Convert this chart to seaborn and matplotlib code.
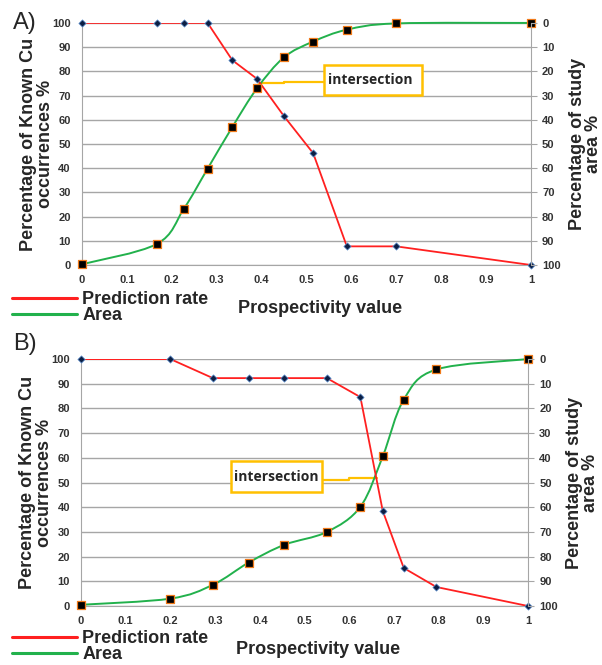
import numpy as np
import pandas as pd
import matplotlib
matplotlib.use("Agg")
import matplotlib.pyplot as plt
from matplotlib.path import Path
from matplotlib.patches import PathPatch, Rectangle
from matplotlib.lines import Line2D
import seaborn as sns

# data
# panel A
a_x = [0, 0.167, 0.227, 0.28, 0.335, 0.39, 0.45, 0.515, 0.59, 0.70, 1.0]
a_pred = [100, 100, 100, 100, 84.6, 76.9, 61.5, 46.2, 7.7, 7.7, 0]
a_area = [0.3, 8.7, 23.2, 39.8, 57.0, 73.0, 85.8, 92.3, 97.2, 99.8, 100]
# panel B
b_x = [0, 0.2, 0.295, 0.375, 0.455, 0.55, 0.625, 0.675, 0.722, 0.795, 1.0]
b_pred = [100, 100, 92.3, 92.3, 92.3, 92.3, 84.6, 38.5, 15.4, 7.7, 0]
b_area = [0.5, 3.0, 8.6, 17.6, 24.8, 30.0, 40.2, 60.6, 83.6, 95.8, 100]

x_ticks = [0, 0.1, 0.2, 0.3, 0.4, 0.5, 0.6, 0.7, 0.8, 0.9, 1]
x_tick_labels = ["0", "0.1", "0.2", "0.3", "0.4", "0.5", "0.6", "0.7", "0.8", "0.9", "1"]
y_ticks = list(range(0, 101, 10))

RED = "#ff2020"
GREEN = "#22b14c"
ORANGE = "#ffc000"
GRID = "#a6a6a6"

sns.set_style("white")
plt.rcParams['font.family'] = ['Liberation Sans', 'DejaVu Sans']


def smooth_path(xs, ys):
    # excel-like smoothed line: cubic bezier through the points
    p = np.column_stack([xs, ys]).astype(float)
    verts = [p[0]]
    codes = [Path.MOVETO]
    n = len(p)
    for i in range(n - 1):
        p0 = p[i - 1] if i > 0 else p[i]
        p3 = p[i + 2] if i + 2 < n else p[i + 1]
        c1 = p[i] + (p[i + 1] - p0) / 6.0
        c2 = p[i + 1] - (p3 - p[i]) / 6.0
        verts += [c1, c2, p[i + 1]]
        codes += [Path.CURVE4] * 3
    return Path(verts, codes)


def draw_panel(ax, xs, pred, area):
    df = pd.DataFrame({"x": xs, "pred": pred, "area": area})
    ax.set_xlim(0, 1)
    ax.set_ylim(0, 100)
    ax.set_yticks(y_ticks)
    ax.set_xticks(x_ticks)
    ax.set_xticklabels(x_tick_labels)
    ax.yaxis.grid(True, color=GRID, lw=1)
    ax.set_axisbelow(True)
    for s in ["top", "right"]:
        ax.spines[s].set_visible(False)
    ax.spines["left"].set_color(GRID)
    ax.spines["bottom"].set_color(GRID)
    ax.tick_params(axis="both", labelsize=8, colors="#333333", length=3, width=0.8)
    ax.tick_params(axis="y", length=0, pad=8)
    ax.tick_params(axis="x", color=GRID, pad=4)
    for t in ax.get_xticklabels() + ax.get_yticklabels():
        t.set_fontweight("bold")

    # green area curve (smoothed)
    ax.add_patch(PathPatch(smooth_path(df["x"], df["area"]), fill=False,
                           edgecolor=GREEN, lw=1.4, zorder=3, clip_on=False))
    sns.lineplot(ax=ax, data=df, x="x", y="pred", color=RED, lw=1.3,
                 errorbar=None, zorder=4)
    sns.scatterplot(ax=ax, data=df, x="x", y="pred", marker="D", s=14,
                    color="#0b1f45", edgecolor="#6a9bd8", linewidth=0.5,
                    zorder=5, clip_on=False)
    sns.scatterplot(ax=ax, data=df, x="x", y="area", marker="s", s=30,
                    color="black", edgecolor="#f07a1a", linewidth=0.9,
                    zorder=6, clip_on=False)
    ax.set_xlabel("")
    ax.set_ylabel("Percentage of Known Cu\noccurrences %", fontsize=13,
                  fontweight="bold", linespacing=0.95, labelpad=-1)

    ax2 = ax.twinx()
    ax2.set_ylim(100, 0)
    ax2.set_yticks(y_ticks)
    ax2.tick_params(axis="y", labelsize=8, colors="#333333", length=4,
                    width=0.8, pad=4)
    ax2.tick_params(axis="y", color=GRID)
    for t in ax2.get_yticklabels():
        t.set_fontweight("bold")
    for s in ["top", "left", "bottom"]:
        ax2.spines[s].set_visible(False)
    ax2.spines["right"].set_color(GRID)
    ax2.set_ylabel("Percentage of study\narea %", fontsize=13, fontweight="bold",
                   linespacing=0.95, labelpad=6)
    ax2.grid(False)
    return ax2


fig = plt.figure(figsize=(6.02, 6.65), dpi=100)
axA = fig.add_axes([0.136, 0.6015, 0.746, 0.364])
axB = fig.add_axes([0.1346, 0.0887, 0.7425, 0.3713])

draw_panel(axA, a_x, a_pred, a_area)
draw_panel(axB, b_x, b_pred, b_area)

# intersection annotations
axA.plot([0.395, 0.45, 0.45, 0.54], [75.3, 75.3, 75.8, 75.8], color=ORANGE, lw=1.6, zorder=2)
axA.add_patch(Rectangle((0.54, 70.2), 0.218, 12.6, fill=True, facecolor="white",
                        edgecolor=ORANGE, lw=1.8, zorder=7))
axA.text(0.549, 76.5, "intersection", fontsize=10, fontweight="bold",
         va="center", ha="left", zorder=8, family=['Open Sans', 'DejaVu Sans'])

axB.plot([0.538, 0.6, 0.6, 0.662], [51.2, 51.2, 52.0, 52.0], color=ORANGE, lw=1.6, zorder=2)
axB.add_patch(Rectangle((0.336, 46.0), 0.203, 12.8, fill=True, facecolor="white",
                        edgecolor=ORANGE, lw=1.8, zorder=7))
axB.text(0.343, 52.2, "intersection", fontsize=10, fontweight="bold",
         va="center", ha="left", zorder=8, family=['Open Sans', 'DejaVu Sans'])

# x labels
for ax in (axA, axB):
    ax.text(0.53, -0.178, "Prospectivity value", transform=ax.transAxes,
            fontsize=13, fontweight="bold", ha="center", va="center")

# panel letters
fig.text(0.022, 0.966, "A)", fontsize=17, ha="left", va="center")
fig.text(0.022, 0.482, "B)", fontsize=17, ha="left", va="center")

# legends
handles = [Line2D([0], [0], color=RED, lw=2.2), Line2D([0], [0], color=GREEN, lw=2.2)]
for y in (1 - 291 / 665, 1 - 630 / 665):
    fig.legend(handles, ["Prediction rate", "Area"], loc="upper left",
               bbox_to_anchor=(0.02, y), frameon=False, handlelength=3.6,
               handletextpad=0.3, labelspacing=-0.05, borderpad=0.0,
               borderaxespad=0.0, prop={"size": 13, "weight": "bold"})

fig.savefig("out.png", dpi=100)
